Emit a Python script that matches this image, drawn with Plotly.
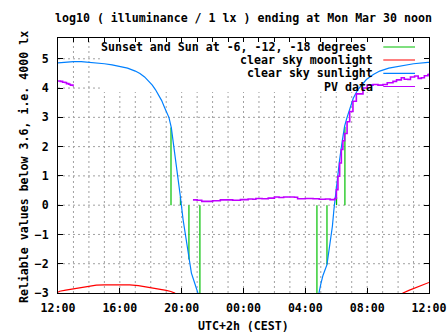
import plotly.graph_objects as go

# ---------------- data (hours after 12:00 on Sun Mar 29) ----------------
tick_hours = [0, 4, 8, 12, 16, 20, 24]
tick_labels = ["12:00", "16:00", "20:00", "00:00", "04:00", "08:00", "12:00"]
grid_hours = list(range(1, 24))
grid_levels = [-2, -1, 0, 1, 2, 3, 4, 5]

sun_set_h = [0, 0.5, 1.0, 1.5, 2.0, 2.5, 3.0, 3.5, 4.0, 4.5, 5.0, 5.3, 5.6, 5.9, 6.1,
             6.3, 6.5, 6.7, 6.9, 7.05, 7.18, 7.33, 7.5, 7.66, 7.8, 7.92, 8.09, 8.3,
             8.47, 8.63, 8.84, 9.05, 9.2]
sun_set_v = [4.86, 4.89, 4.90, 4.90, 4.88, 4.86, 4.83, 4.79, 4.74, 4.68, 4.58, 4.50,
             4.38, 4.22, 4.10, 3.95, 3.78, 3.58, 3.33, 3.15, 2.99, 2.65, 1.97, 1.45,
             0.90, 0.28, -0.49, -1.18, -1.86, -2.32, -2.66, -3.0, -3.4]
sun_rise_h = [16.8, 16.88, 17.0, 17.14, 17.4, 17.5, 17.62, 17.75, 17.85, 17.96, 18.11,
              18.22, 18.37, 18.54, 18.7, 18.87, 19.1, 19.4, 19.95, 20.4, 20.81, 21.4,
              22.1, 23.0, 23.93, 24.0]
sun_rise_v = [-3.4, -3.0, -2.7, -2.4, -2.03, -1.7, -1.29, -0.72, -0.15, 0.42, 0.99,
              1.56, 2.13, 2.70, 3.0, 3.27, 3.65, 3.95, 4.29, 4.46, 4.58, 4.68, 4.75,
              4.83, 4.88, 4.88]

moon1_h = [0, 0.11, 0.5, 0.97, 1.5, 2.05, 2.48, 3.0, 4.0, 4.64, 5.2, 5.7, 6.15, 6.6,
           7.0, 7.3, 7.55, 7.7]
moon1_v = [-2.97, -2.94, -2.9, -2.86, -2.82, -2.78, -2.73, -2.72, -2.72, -2.72, -2.75,
           -2.79, -2.83, -2.87, -2.91, -2.95, -3.0, -3.1]
moon2_h = [22.2, 22.32, 22.7, 23.18, 23.6, 24.0]
moon2_v = [-3.05, -3.0, -2.91, -2.81, -2.72, -2.64]

# sunset, -6, -12, -18 deg (evening) and -18, -12, -6, sunrise (morning)
event_h = [7.31, 7.92, 8.47, 9.18, 16.75, 17.4, 18.02, 18.56]
event_v = [2.65, 0.28, -1.86, -3.0, -3.0, -2.03, 0.27, 2.68]

pv1_h = [0, 0.15, 0.3, 0.45, 0.55, 0.7, 0.8, 0.97]
pv1_v = [4.24, 4.23, 4.20, 4.19, 4.15, 4.13, 4.10, 4.06]
pv2_h = [8.73, 9.0, 9.3, 9.7, 10.0, 10.5, 10.9, 11.3, 11.8, 12.3, 12.6, 12.8, 13.2,
         13.6, 14.0, 14.3, 14.6, 15.0, 15.3, 15.5, 16.0, 16.5, 16.9, 17.3, 17.6, 17.9,
         18.01, 18.11, 18.22, 18.33, 18.43, 18.54, 18.7, 18.87, 19.08, 19.3, 19.73,
         20.0, 20.38, 20.7, 21.02, 21.3, 21.67, 21.9, 22.21, 22.4, 22.64, 22.8, 23.07,
         23.3, 23.51, 23.7, 23.93, 24.0]
pv2_v = [0.18, 0.17, 0.13, 0.13, 0.15, 0.18, 0.18, 0.17, 0.19, 0.21, 0.20, 0.23, 0.22,
         0.24, 0.28, 0.26, 0.28, 0.28, 0.27, 0.22, 0.23, 0.22, 0.20, 0.21, 0.19, 0.23,
         0.53, 0.99, 1.44, 1.90, 2.20, 2.45, 2.85, 3.20, 3.55, 3.80, 4.00, 4.10, 4.12,
         4.10, 4.12, 4.18, 4.23, 4.28, 4.35, 4.30, 4.29, 4.38, 4.41, 4.33, 4.35, 4.42,
         4.46, 4.50]

legend_names = ["Sunset and Sun at -6, -12, -18 degrees", "clear sky moonlight",
                "clear sky sunlight", "PV data"]
colors = ["#00c000", "#ff0000", "#0080ff", "#c000ff"]

title_text = "log10 ( illuminance / 1 lx ) ending at Mon Mar 30 noon"
ytitle_text = "Reliable values below 3.6, i.e. 4000 lx"
xtitle_text = "UTC+2h (CEST)"

# ---------------- figure ----------------
FONT = dict(family="DejaVu Sans Mono", size=11.6, color="black", weight="bold")
GRID = "#a0a0a0"
DASH = "2px,3px"

fig = go.Figure()

ev_x, ev_y = [], []
for h, v in zip(event_h, event_v):
    ev_x += [h, h, None]
    ev_y += [0, v, None]
fig.add_trace(go.Scatter(x=ev_x, y=ev_y, mode="lines",
                         line=dict(color=colors[0], width=1.2), showlegend=False))

fig.add_trace(go.Scatter(x=moon1_h + [None] + moon2_h, y=moon1_v + [None] + moon2_v,
                         mode="lines", line=dict(color=colors[1], width=1.2),
                         showlegend=False))
fig.add_trace(go.Scatter(x=sun_set_h + [None] + sun_rise_h,
                         y=sun_set_v + [None] + sun_rise_v,
                         mode="lines", line=dict(color=colors[2], width=1.2),
                         showlegend=False))
fig.add_trace(go.Scatter(x=pv1_h + [None] + pv2_h, y=pv1_v + [None] + pv2_v,
                         mode="lines", line=dict(color=colors[3], width=1.6, shape="hv"),
                         showlegend=False))
# empty trace to carry the top (hourly-tick) axis
fig.add_trace(go.Scatter(x=[], y=[], xaxis="x2", showlegend=False))

# dotted grid drawn below the data
for h in grid_hours:
    fig.add_shape(type="line", xref="x", yref="y domain", x0=h, x1=h, y0=0, y1=1,
                  line=dict(color=GRID, width=1, dash=DASH), layer="below")
for v in grid_levels:
    fig.add_shape(type="line", xref="x domain", yref="y", x0=0, x1=1, y0=v, y1=v,
                  line=dict(color=GRID, width=1, dash=DASH), layer="below")

# manual gnuplot-style key (opaque box hides grid, text right-aligned, sample right)
fig.add_shape(type="rect", xref="paper", yref="paper", x0=0.113, x1=1, y0=0.788, y1=1,
              fillcolor="white", line=dict(width=0), layer="below")
rows_y = [0.9647, 0.9137, 0.8616, 0.8098]
text_right = [0.8356, 0.8544, 0.8544, 0.8544]
for name, col, yy, xr in zip(legend_names, colors, rows_y, text_right):
    fig.add_annotation(text=name, xref="paper", yref="paper", x=xr, y=yy,
                       xanchor="right", yanchor="middle", showarrow=False, font=FONT)
    fig.add_shape(type="line", xref="paper", yref="paper", x0=0.8768, x1=0.9623,
                  y0=yy, y1=yy, line=dict(color=col, width=1.2))

fig.add_annotation(text=title_text, xref="paper", yref="paper", x=0.4987, y=1.078,
                   xanchor="center", yanchor="middle", showarrow=False, font=FONT)
fig.add_annotation(text=xtitle_text, xref="paper", yref="paper", x=0.4987, y=-0.129,
                   xanchor="center", yanchor="middle", showarrow=False, font=FONT)
fig.add_annotation(text=ytitle_text, xref="paper", yref="paper", x=-0.0916, y=0.494,
                   xanchor="center", yanchor="middle", textangle=-90,
                   showarrow=False, font=FONT)

fig.update_layout(
    width=447, height=335,
    margin=dict(l=58, r=18, t=38, b=42),
    paper_bgcolor="white", plot_bgcolor="white",
    showlegend=False,
    xaxis=dict(range=[0, 24], tickmode="array", tickvals=tick_hours, ticktext=tick_labels,
               ticks="inside", ticklen=5, tickcolor="black", tickwidth=1,
               showline=True, linecolor="black", linewidth=1, mirror=True,
               showgrid=False, zeroline=False, tickfont=FONT, ticklabelstandoff=4,
               automargin=False),
    xaxis2=dict(range=[0, 24], overlaying="x", side="top", anchor="y",
                tickmode="linear", tick0=0, dtick=1, ticks="inside", ticklen=4,
                tickcolor="black", showticklabels=False, showgrid=False,
                showline=False, zeroline=False, automargin=False),
    yaxis=dict(range=[-3, 5.71], tickmode="linear", tick0=0, dtick=1,
               ticks="inside", ticklen=5, tickcolor="black", tickwidth=1,
               showline=True, linecolor="black", linewidth=1, mirror="ticks",
               showgrid=False, zeroline=False, tickfont=FONT, ticklabelstandoff=6,
               automargin=False),
)

fig.write_html("out.html")
